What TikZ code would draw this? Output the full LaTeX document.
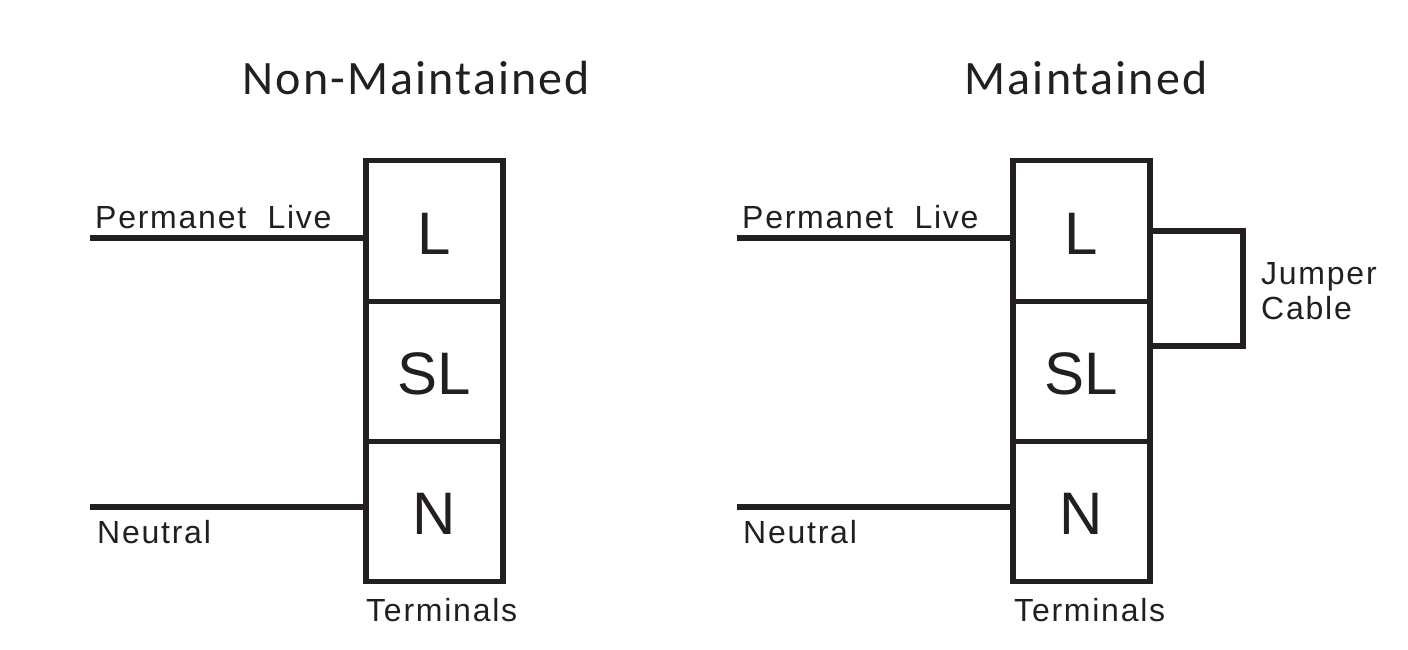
\documentclass[tikz,border=0pt]{standalone}
\usepackage{fontspec}
\setmainfont{Liberation Sans}
\newfontfamily\headfont[LetterSpace=4.4]{Carlito}
\newfontfamily\labelfont[LetterSpace=5.5,WordSpace=2]{Liberation Sans}
\usetikzlibrary{positioning}
\definecolor{inkc}{RGB}{35,31,32}
\tikzset{
	terminal/.style={draw=inkc,line width=5.2pt,outer sep=0pt,minimum width=137pt,minimum height=140.3pt,inner sep=0pt,text=inkc,text height=46pt,text depth=0pt,font=\fontsize{60pt}{60pt}\selectfont},
	wire/.style={draw=inkc,line width=5.2pt},
	heading/.style={text=inkc,inner sep=0pt,font=\headfont\fontsize{48pt}{48pt}\selectfont},
	caption/.style={text=inkc,inner sep=0pt,anchor=base west,font=\labelfont\fontsize{32pt}{36pt}\selectfont}
}
\begin{document}
\begin{tikzpicture}[x=1pt,y=-1pt]
	\useasboundingbox (0,0) rectangle (1408,650);
	% left block
	\node [terminal] (l1) at (434.5,231) {L};
	\node [terminal,below=0pt of l1] (s1) {SL};
	\node [terminal,below=0pt of s1] (n1) {N};
	\node [heading] (h1) at (416.5,78) {Non-Maintained};
	\coordinate (a1) at (90,238);
	\coordinate (b1) at (90,507);
	\draw [wire] (a1) -- (a1 -| l1.west);
	\draw [wire] (b1) -- (b1 -| n1.west);
	\node [caption] (p1) at (95,228) {Permanet Live};
	\node [caption] (u1) at (97,543) {Neutral};
	\node [caption] (t1) at (366,621) {Terminals};
	% right block
	\node [terminal] (l2) at (1081.5,231) {L};
	\node [terminal,below=0pt of l2] (s2) {SL};
	\node [terminal,below=0pt of s2] (n2) {N};
	\node [heading] (h2) at (1086,78) {Maintained};
	\coordinate (a2) at (737,238);
	\coordinate (b2) at (737,507);
	\draw [wire] (a2) -- (a2 -| l2.west);
	\draw [wire] (b2) -- (b2 -| n2.west);
	\coordinate (j1) at (1243,231);
	\coordinate (j2) at (1243,346);
	\draw [wire] (l2.east) -- (j1) -- (j2) -- (j2 -| s2.east);
	\node [caption] (p2) at (742,228) {Permanet Live};
	\node [caption] (u2) at (743,543) {Neutral};
	\node [caption] (t2) at (1014,621) {Terminals};
	\node [caption] (c1) at (1261,284) {Jumper};
	\node [caption] (c2) at (1261,319) {Cable};
\end{tikzpicture}
\end{document}
